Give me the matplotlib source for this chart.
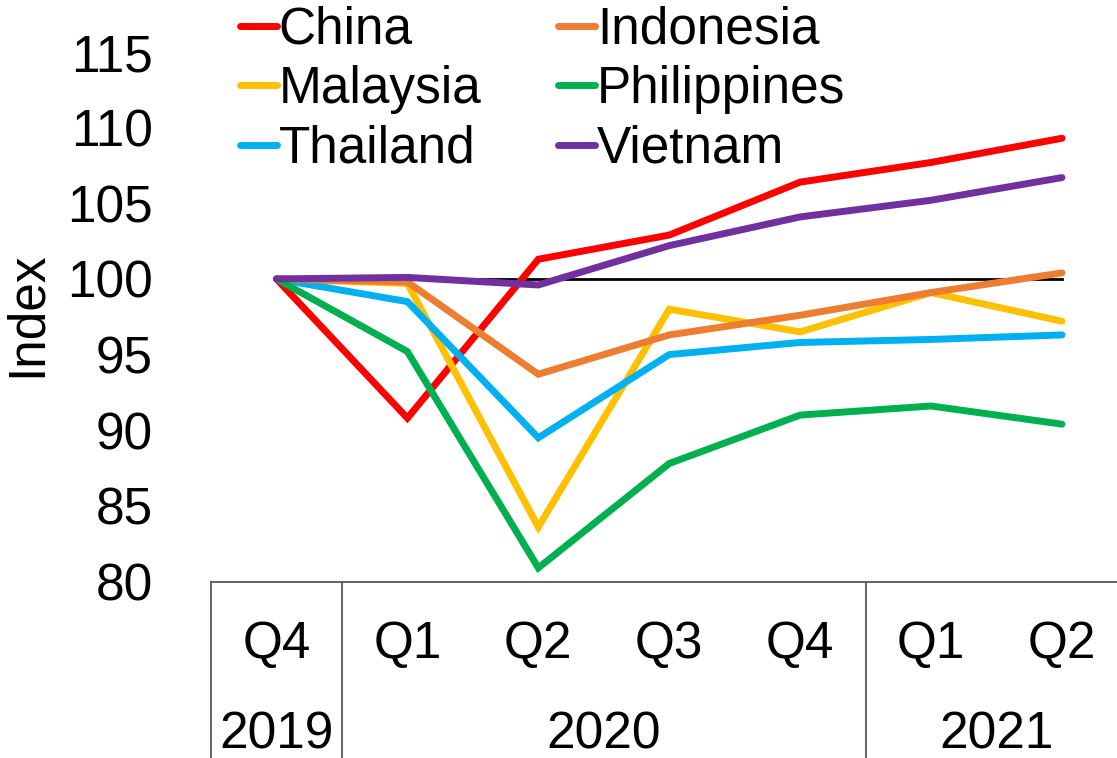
import matplotlib.pyplot as plt
from matplotlib.lines import Line2D
import matplotlib.transforms as mtransforms

plt.rcParams['font.family'] = ['Liberation Sans', 'DejaVu Sans']

# quarter labels and year groups for the category axis
quarters = ["Q4", "Q1", "Q2", "Q3", "Q4", "Q1", "Q2"]
years = ["2019", "2020", "2021"]
year_span = [(0, 0), (1, 4), (5, 6)]

# index values, Q4 2019 = 100
china = [100, 90.8, 101.3, 102.9, 106.4, 107.7, 109.3]
indonesia = [100, 99.8, 93.7, 96.3, 97.6, 99.1, 100.4]
malaysia = [100, 99.7, 83.6, 98.0, 96.5, 99.1, 97.2]
philippines = [100, 95.2, 80.9, 87.8, 91.0, 91.6, 90.4]
thailand = [100, 98.5, 89.5, 95.0, 95.8, 96.0, 96.3]
vietnam = [100, 100.1, 99.6, 102.2, 104.1, 105.2, 106.7]
baseline = [100] * 7

series = [
    ("China", china, "#FF0000"),
    ("Malaysia", malaysia, "#FFC000"),
    ("Thailand", thailand, "#00B0F0"),
    ("Indonesia", indonesia, "#ED7D31"),
    ("Philippines", philippines, "#00B050"),
    ("Vietnam", vietnam, "#7030A0"),
]

FS = 37
W, H = 1117, 758
fig = plt.figure(figsize=(W / 100, H / 100), dpi=100)
left, right, bottom, top = 211, 1117, 581.5, 52
ax = fig.add_axes([left / W, (H - bottom) / H, (right - left) / W, (bottom - top) / H])

x = list(range(len(quarters)))
ax.plot(x, baseline, color="black", linewidth=2, zorder=1)
handles = []
for name, vals, col in series:
    ln, = ax.plot(x, vals, color=col, linewidth=5.0, label=name,
                  solid_capstyle="round", solid_joinstyle="miter", zorder=2)
    handles.append(ln)

ax.set_xlim(-0.5, 6.42)
ax.set_ylim(80, 115)
ax.set_yticks([80, 85, 90, 95, 100, 105, 110, 115])
ax.tick_params(axis="y", length=0, pad=42, labelsize=FS)
ax.set_xticks([])
for s in ["left", "right", "top"]:
    ax.spines[s].set_visible(False)
ax.spines["bottom"].set_color("#595959")
ax.spines["bottom"].set_linewidth(1.3)

ax.set_ylabel("Index", fontsize=FS)
ax.yaxis.set_label_coords(-0.1755, 0.505)

# category table under the axis
trans = mtransforms.blended_transform_factory(ax.transData, ax.transAxes)
axh = bottom - top
q_y = -(645 - bottom) / axh
y_y = -(735 - bottom) / axh
low = -(H - bottom) / axh
for i, q in enumerate(quarters):
    ax.text(i, q_y, q, transform=trans, ha="center", va="center", fontsize=FS)
for yr, (a, b) in zip(years, year_span):
    ax.text((a + b) / 2, y_y, yr, transform=trans, ha="center", va="center", fontsize=FS)
for xs in [-0.5, 0.5, 4.5]:
    ax.add_line(Line2D([xs, xs], [0, low], transform=trans, color="#595959",
                       linewidth=1.3, clip_on=False))

fig.legend(handles=handles, loc="upper left", ncol=2, fontsize=FS, frameon=False,
           handlelength=0.72, handletextpad=0.03, columnspacing=1.5,
           labelspacing=0.2, borderpad=0, borderaxespad=0,
           bbox_to_anchor=(240 / W, 1 - 6 / H))

fig.savefig("out.png", dpi=100)
